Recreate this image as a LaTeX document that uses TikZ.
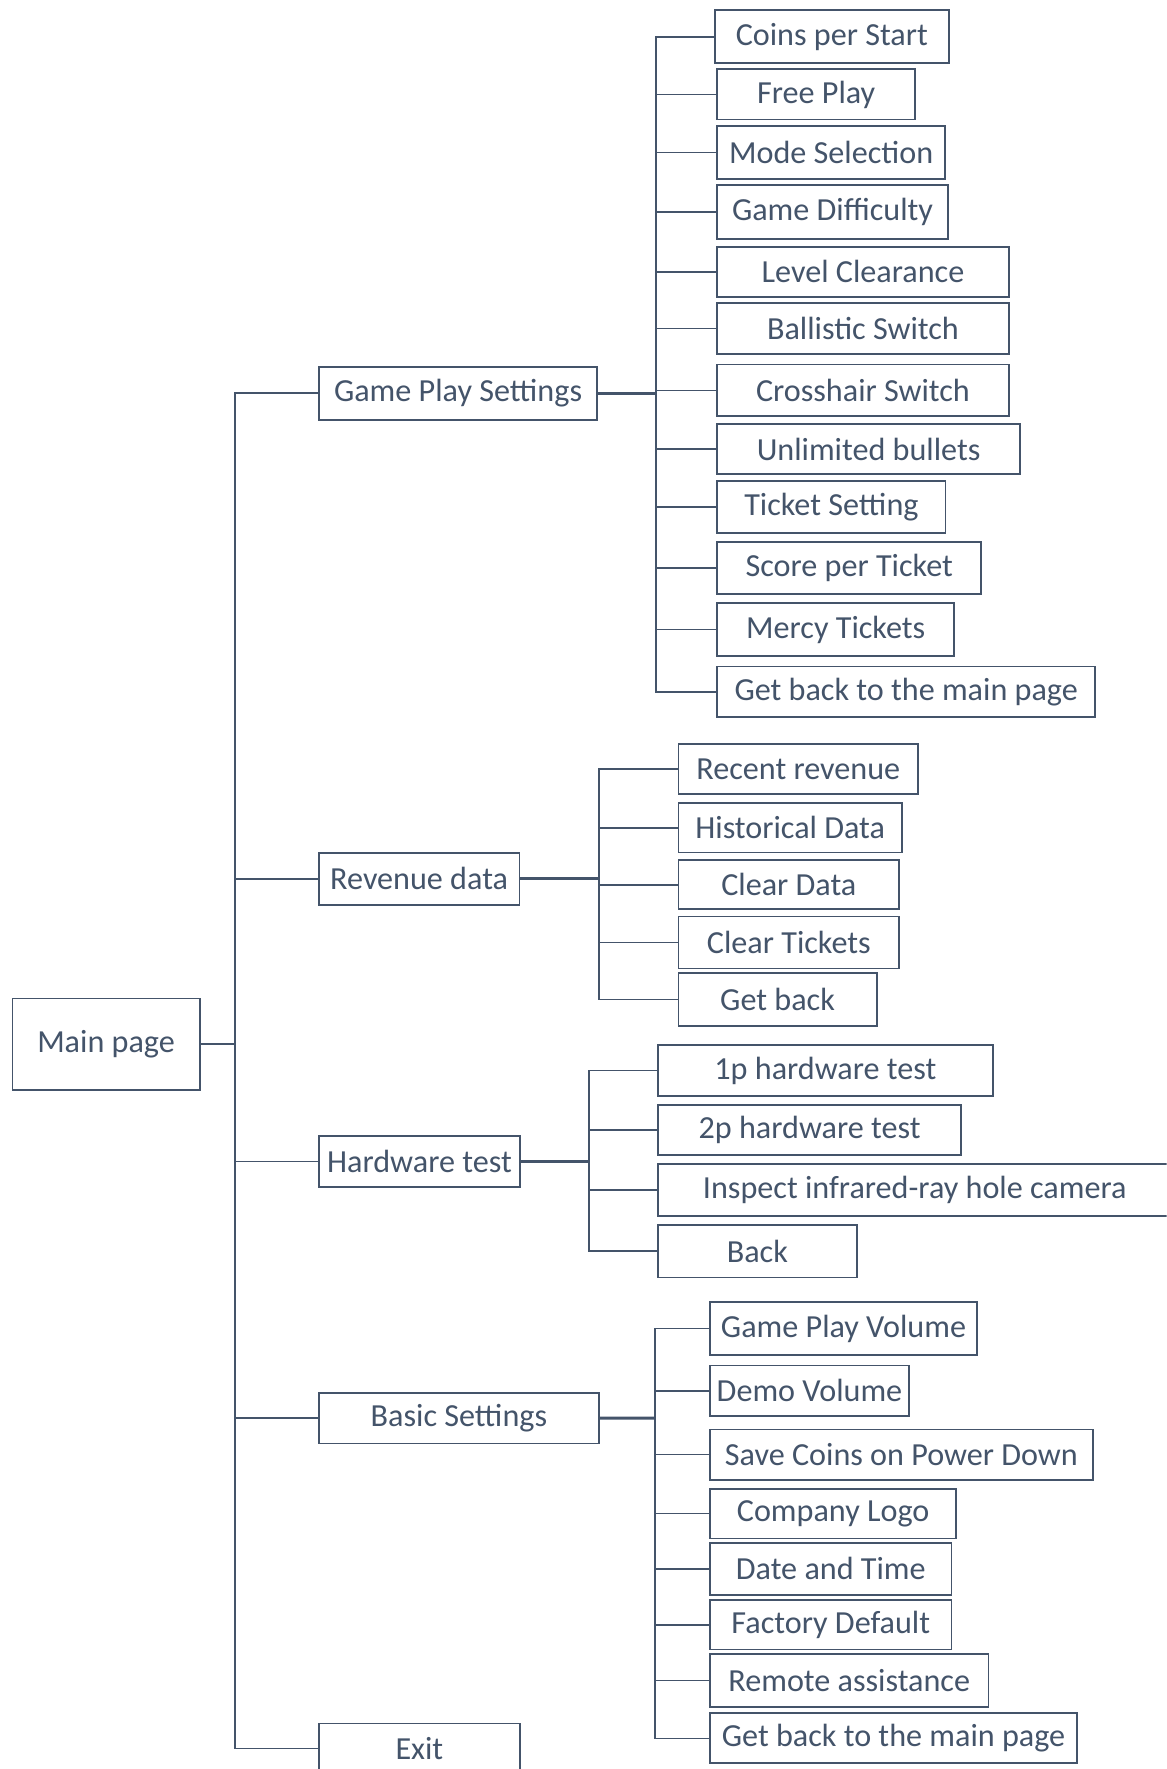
\documentclass[tikz,border=0pt]{standalone}
\usepackage{fontspec}
\setmainfont{Carlito}
\definecolor{ln}{HTML}{44546A}
\newcommand\mkbox[6]{\node[box, minimum width={(#3)-(#2)}, minimum height={(#5)-(#4)}] (#1) at ({((#2)+(#3))/2},{((#4)+(#5))/2}) {#6};}
\begin{document}
\begin{tikzpicture}[x=1pt,y=-1pt,
  box/.style={draw=ln, line width=1.6pt, inner sep=0pt, text=ln, font=\fontsize{28.5}{30}\selectfont},
  conn/.style={draw=ln, line width=1.5pt, line cap=rect},
  stub/.style={draw=ln, line width=2.6pt}]
\clip (0,0) rectangle (1034,1568);
\fill[white] (0,0) rectangle (1034,1568);
% level 0 and 1
\mkbox{main}{11}{177}{885}{966}{Main page}
\mkbox{gps}{282.5}{529.5}{325}{372}{Game Play Settings}
\mkbox{rev}{282.5}{460.5}{756}{802}{Revenue data}
\mkbox{hw}{282.5}{461}{1007}{1052}{Hardware test}
\mkbox{bs}{282.5}{531}{1234.6}{1279.5}{Basic Settings}
\mkbox{exit}{282.5}{461}{1527.6}{1572}{Exit}
% game play settings children
\mkbox{g1}{633.6}{841}{9}{56}{Coins per Start}
\mkbox{g2}{635.8}{811}{61.5}{106}{Free Play}
\mkbox{g3}{635.8}{837.6}{111.6}{158.6}{Mode Selection}
\mkbox{g4}{635.8}{840}{164}{211.5}{Game Difficulty}
\mkbox{g5}{635.8}{894}{218.6}{263}{Level Clearance}
\mkbox{g6}{635.8}{894}{268.7}{313.7}{Ballistic Switch}
\mkbox{g7}{635.8}{894}{323}{369}{Crosshair Switch}
\mkbox{g8}{635.8}{904}{375.7}{420.3}{Unlimited bullets}
\mkbox{g9}{635.8}{838}{426}{472.5}{Ticket Setting}
\mkbox{g10}{635.8}{869.7}{480.5}{526.6}{Score per Ticket}
\mkbox{g11}{635.8}{845.7}{534.6}{581.3}{Mercy Tickets}
\mkbox{g12}{635.8}{970.6}{590.7}{635.6}{Get back to the main page}
% revenue children
\mkbox{r1}{601.4}{813.7}{659.5}{703.8}{Recent revenue}
\mkbox{r2}{601.4}{799.4}{711.7}{755.7}{Historical Data}
\mkbox{r3}{601.4}{797}{762.3}{806}{Clear Data}
\mkbox{r4}{601.4}{797}{812.3}{858.5}{Clear Tickets}
\mkbox{r5}{601.4}{777}{862.6}{909.2}{Get back}
% hardware children
\mkbox{h1}{583.2}{880}{926.6}{971.2}{1p hardware test}
\mkbox{h2}{583.2}{852}{979.1}{1024}{2p hardware test}
\mkbox{h3}{583.2}{1038.4}{1031.9}{1077.8}{Inspect infrared-ray hole camera}
\mkbox{h4}{583.2}{759.4}{1085.8}{1132.3}{Back}
% basic settings children
\mkbox{b1}{629.4}{865.9}{1154.2}{1200.9}{Game Play Volume}
\mkbox{b2}{629.4}{805.6}{1210.4}{1255.3}{Demo Volume}
\mkbox{b3}{629.4}{968.6}{1267}{1311.6}{Save Coins on Power Down}
\mkbox{b4}{629.4}{847.6}{1319.6}{1363.6}{Company Logo}
\mkbox{b5}{629.4}{843.4}{1367.5}{1413.5}{Date and Time}
\mkbox{b6}{629.4}{843.4}{1418.3}{1462}{Factory Default}
\mkbox{b7}{629.4}{876.1}{1466.1}{1512.8}{Remote assistance}
\mkbox{b8}{629.4}{954.6}{1518.7}{1563}{Get back to the main page}
% buses
\coordinate (trunk) at (208.5,925.5);
\coordinate (gbus) at (581.5,348.5);
\coordinate (rbus) at (531,779);
\coordinate (hbus) at (522.2,1029.5);
\coordinate (bbus) at (580.5,1257);
% main trunk
\draw[conn] (main.east) -- (trunk |- main.east);
\draw[conn] (trunk |- gps.west) -- (trunk |- exit.west);
\foreach \n in {gps,rev,hw,bs,exit} \draw[conn] (trunk |- \n.west) -- (\n.west);
% sub trees
\draw[stub] (gps.east) -- (gbus);
\draw[conn] (gbus |- g1.west) -- (gbus |- g12.west);
\foreach \n in {g1,g2,g3,g4,g5,g6,g7,g8,g9,g10,g11,g12} \draw[conn] (gbus |- \n.west) -- (\n.west);
\draw[stub] (rev.east) -- (rbus);
\draw[conn] (rbus |- r1.west) -- (rbus |- r5.west);
\foreach \n in {r1,r2,r3,r4,r5} \draw[conn] (rbus |- \n.west) -- (\n.west);
\draw[stub] (hw.east) -- (hbus);
\draw[conn] (hbus |- h1.west) -- (hbus |- h4.west);
\foreach \n in {h1,h2,h3,h4} \draw[conn] (hbus |- \n.west) -- (\n.west);
\draw[stub] (bs.east) -- (bbus);
\draw[conn] (bbus |- b1.west) -- (bbus |- b8.west);
\foreach \n in {b1,b2,b3,b4,b5,b6,b7,b8} \draw[conn] (bbus |- \n.west) -- (\n.west);
\end{tikzpicture}
\end{document}
